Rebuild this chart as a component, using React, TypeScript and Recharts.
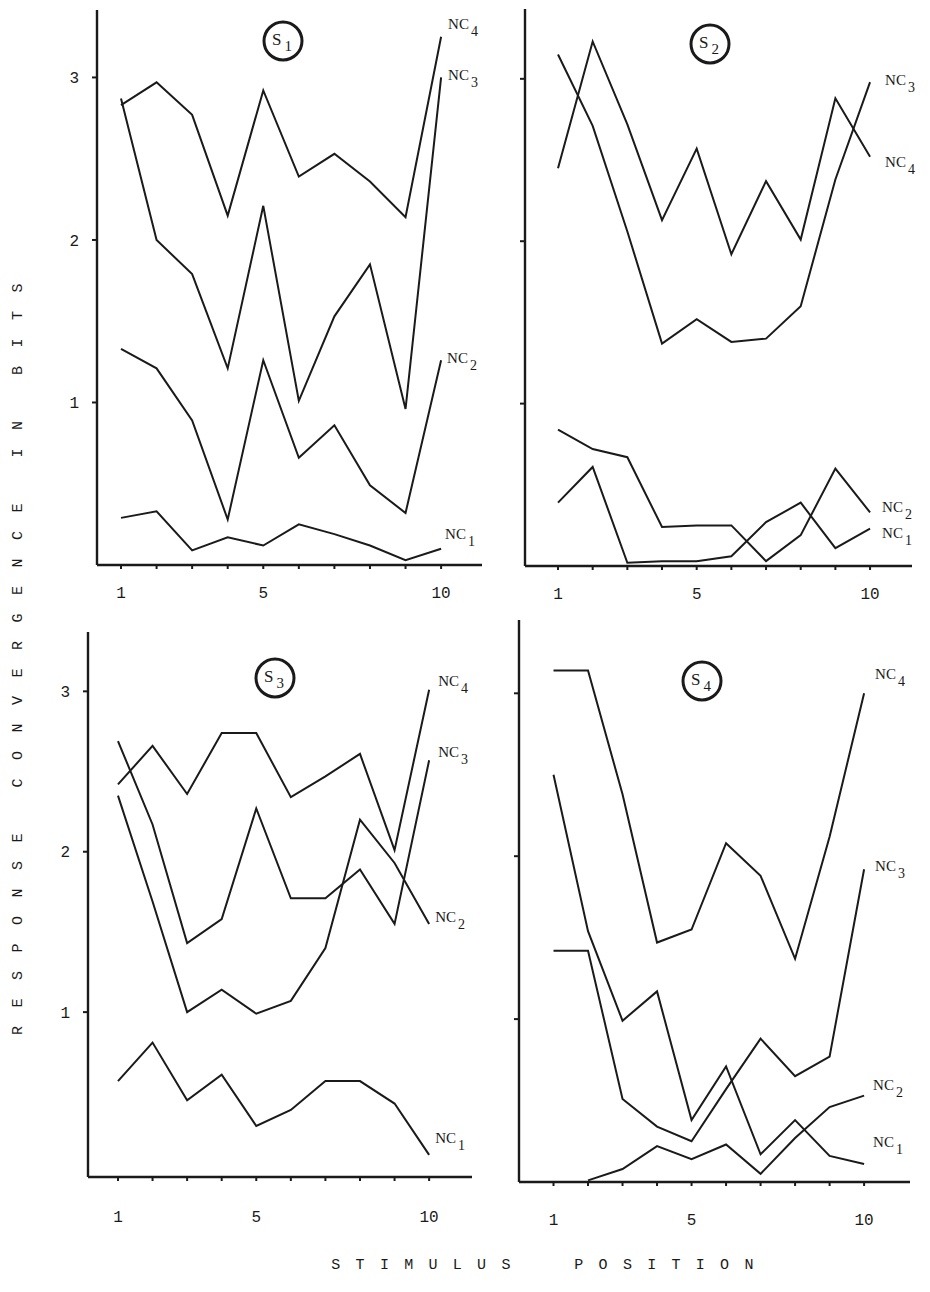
import React from 'react';
import { LineChart, Line, XAxis, YAxis, LabelList } from 'recharts';

// stimulus positions along the x axis
const positions = [1, 2, 3, 4, 5, 6, 7, 8, 9, 10];
const labelledPositions = [1, 5, 10];
const bitTicks = [1, 2, 3];

// S1
const s1NC4 = [2.83, 2.97, 2.77, 2.15, 2.92, 2.39, 2.53, 2.36, 2.14, 3.25];
const s1NC3 = [2.87, 2.0, 1.79, 1.21, 2.21, 1.01, 1.53, 1.85, 0.96, 3.0];
const s1NC2 = [1.33, 1.21, 0.89, 0.28, 1.26, 0.66, 0.86, 0.49, 0.32, 1.26];
const s1NC1 = [0.29, 0.33, 0.09, 0.17, 0.12, 0.25, 0.19, 0.12, 0.03, 0.1];

// S2
const s2NC4 = [2.45, 3.23, 2.72, 2.13, 2.57, 1.92, 2.37, 2.01, 2.88, 2.52];
const s2NC3 = [3.15, 2.71, 2.06, 1.37, 1.52, 1.38, 1.4, 1.6, 2.38, 2.98];
const s2NC2 = [0.84, 0.72, 0.67, 0.24, 0.25, 0.25, 0.03, 0.19, 0.6, 0.33];
const s2NC1 = [0.39, 0.61, 0.02, 0.03, 0.03, 0.06, 0.27, 0.39, 0.11, 0.23];

// S3
const s3NC4 = [2.42, 2.66, 2.36, 2.74, 2.74, 2.34, 2.47, 2.61, 2.01, 3.01];
const s3NC3 = [2.69, 2.17, 1.43, 1.58, 2.27, 1.71, 1.71, 1.89, 1.55, 2.57];
const s3NC2 = [2.35, 1.69, 1.0, 1.14, 0.99, 1.07, 1.4, 2.2, 1.93, 1.55];
const s3NC1 = [0.57, 0.81, 0.45, 0.61, 0.29, 0.39, 0.57, 0.57, 0.43, 0.11];

// S4
const s4NC4 = [3.14, 3.14, 2.38, 1.47, 1.55, 2.08, 1.88, 1.37, 2.12, 3.0];
const s4NC3 = [1.42, 1.42, 0.51, 0.34, 0.25, 0.57, 0.88, 0.65, 0.77, 1.92];
const s4NC2 = [null, 0.01, 0.08, 0.22, 0.14, 0.23, 0.05, 0.27, 0.46, 0.53];
const s4NC1 = [2.5, 1.54, 0.99, 1.17, 0.38, 0.71, 0.17, 0.38, 0.16, 0.11];

const INK = '#1a1a1a';
const MONO = "'Liberation Mono', 'DejaVu Sans Mono', monospace";
const SERIF = "'Liberation Serif', 'DejaVu Serif', serif";

const PAD_L = 60;
const PAD_T = 20;
const PAD_R = 50;
const PAD_B = 60;
const Y_W = 40;
const X_H = 30;

type Off = [number, number];

interface PanelSpec {
  title: string;
  series: { key: string; values: (number | null)[]; sub: string; off: Off }[];
  plot: { left: number; top: number; right: number; bottom: number };
  xDomain: [number, number];
  yDomain: [number, number];
  showYLabels: boolean;
  xTickMargin: number;
  circle: [number, number];
}

const panels: PanelSpec[] = [
  {
    title: '1',
    series: [
      { key: 'nc4', values: s1NC4, sub: '4', off: [7, -13] },
      { key: 'nc3', values: s1NC3, sub: '3', off: [7, -2] },
      { key: 'nc2', values: s1NC2, sub: '2', off: [6, -2] },
      { key: 'nc1', values: s1NC1, sub: '1', off: [4, -15] },
    ],
    plot: { left: 97, top: 10, right: 482, bottom: 565 },
    xDomain: [0.325, 11.15],
    yDomain: [0, 3.415],
    showYLabels: true,
    xTickMargin: 18,
    circle: [283, 41],
  },
  {
    title: '2',
    series: [
      { key: 'nc4', values: s2NC4, sub: '4', off: [15, 5] },
      { key: 'nc3', values: s2NC3, sub: '3', off: [15, -2] },
      { key: 'nc2', values: s2NC2, sub: '2', off: [12, -5] },
      { key: 'nc1', values: s2NC1, sub: '1', off: [12, 4] },
    ],
    plot: { left: 525, top: 9, right: 912, bottom: 566 },
    xDomain: [0.048, 11.21],
    yDomain: [0, 3.43],
    showYLabels: false,
    xTickMargin: 18,
    circle: [710, 44],
  },
  {
    title: '3',
    series: [
      { key: 'nc4', values: s3NC4, sub: '4', off: [9, -9] },
      { key: 'nc3', values: s3NC3, sub: '3', off: [9, -8] },
      { key: 'nc2', values: s3NC2, sub: '2', off: [6, -7] },
      { key: 'nc1', values: s3NC1, sub: '1', off: [6, -17] },
    ],
    plot: { left: 88, top: 632, right: 472, bottom: 1177 },
    xDomain: [0.133, 11.24],
    yDomain: [-0.028, 3.37],
    showYLabels: true,
    xTickMargin: 30,
    circle: [275, 678],
  },
  {
    title: '4',
    series: [
      { key: 'nc4', values: s4NC4, sub: '4', off: [11, -19] },
      { key: 'nc3', values: s4NC3, sub: '3', off: [11, -3] },
      { key: 'nc2', values: s4NC2, sub: '2', off: [9, -11] },
      { key: 'nc1', values: s4NC1, sub: '1', off: [9, -22] },
    ],
    plot: { left: 519, top: 620, right: 910, bottom: 1182 },
    xDomain: [0, 11.33],
    yDomain: [0, 3.45],
    showYLabels: false,
    xTickMargin: 28,
    circle: [702, 681],
  },
];

const endLabel = (sub: string, off: Off) => (props: any) => {
  if (props.index !== 9 && props.value !== 10) return null;
  const px = props.x ?? props.viewBox?.x;
  const py = props.y ?? props.viewBox?.y;
  if (px == null || py == null) return null;
  return (
    <text x={px + off[0]} y={py + off[1]} fill={INK} fontFamily={SERIF} fontSize={15} dominantBaseline="central">
      NC
      <tspan fontSize={14} dx={2} dy={7}>
        {sub}
      </tspan>
    </text>
  );
};

const Panel: React.FC<{ p: PanelSpec }> = ({ p }) => {
  const data = positions.map((x, i) => {
    const row: Record<string, number | null> = { x };
    p.series.forEach((s) => {
      row[s.key] = s.values[i];
    });
    return row;
  });
  const width = p.plot.right - p.plot.left + PAD_L + PAD_R;
  const height = p.plot.bottom - p.plot.top + PAD_T + PAD_B;

  return (
    <div style={{ position: 'absolute', left: p.plot.left - PAD_L, top: p.plot.top - PAD_T }}>
      <LineChart
        width={width}
        height={height}
        data={data}
        margin={{ top: PAD_T, right: PAD_R, bottom: PAD_B - X_H, left: PAD_L - Y_W }}
      >
        <XAxis
          type="number"
          dataKey="x"
          domain={p.xDomain}
          allowDataOverflow
          ticks={positions}
          interval={0}
          height={X_H}
          tickFormatter={(v) => (labelledPositions.includes(v) ? String(v) : '')}
          axisLine={{ stroke: INK, strokeWidth: 2.4 }}
          tickLine={{ stroke: INK, strokeWidth: 2 }}
          tickSize={4}
          tickMargin={p.xTickMargin}
          tick={{ fill: INK, fontSize: 16, fontFamily: MONO }}
        />
        <YAxis
          type="number"
          domain={p.yDomain}
          allowDataOverflow
          ticks={bitTicks}
          interval={0}
          width={Y_W}
          tickFormatter={(v) => (p.showYLabels ? String(v) : '')}
          axisLine={{ stroke: INK, strokeWidth: 2.4 }}
          tickLine={{ stroke: INK, strokeWidth: 2 }}
          tickSize={5}
          tickMargin={13}
          tick={{ fill: INK, fontSize: 16, fontFamily: MONO }}
        />
        {p.series.map((s) => (
          <Line
            key={s.key}
            type="linear"
            dataKey={s.key}
            stroke={INK}
            strokeWidth={2}
            dot={false}
            activeDot={false}
            connectNulls={false}
            isAnimationActive={false}
          >
            <LabelList dataKey="x" content={endLabel(s.sub, s.off)} />
          </Line>
        ))}
      </LineChart>
    </div>
  );
};

const App: React.FC = () => {
  return (
    <div
      style={{
        position: 'absolute',
        left: 0,
        top: 0,
        width: 930,
        height: 1292,
        overflow: 'hidden',
        background: '#fff',
      }}
    >
      {panels.map((p) => (
        <Panel key={p.title} p={p} />
      ))}
      <svg width={930} height={1292} style={{ position: 'absolute', left: 0, top: 0, pointerEvents: 'none' }}>
        {panels.map((p) => (
          <g key={p.title}>
            <ellipse cx={p.circle[0]} cy={p.circle[1]} rx={19} ry={19} fill="none" stroke={INK} strokeWidth={3} />
            <text x={p.circle[0] - 11} y={p.circle[1] - 2} fill={INK} fontFamily={SERIF} fontSize={17} dominantBaseline="central">
              S
              <tspan fontSize={15} dx={3} dy={7}>
                {p.title}
              </tspan>
            </text>
          </g>
        ))}
        <text
          x={18}
          y={650}
          transform="rotate(-90 18 650)"
          textAnchor="middle"
          dominantBaseline="central"
          fill={INK}
          fontFamily={MONO}
          fontSize={15}
          letterSpacing={18.5}
        >
          RESPONSE CONVERGENCE IN BITS
        </text>
        <text
          x={550}
          y={1265}
          textAnchor="middle"
          dominantBaseline="central"
          fill={INK}
          fontFamily={MONO}
          fontSize={15}
          letterSpacing={15.3}
          style={{ whiteSpace: 'pre' }}
        >
          {'STIMULUS  POSITION'}
        </text>
      </svg>
    </div>
  );
};

export default App;
